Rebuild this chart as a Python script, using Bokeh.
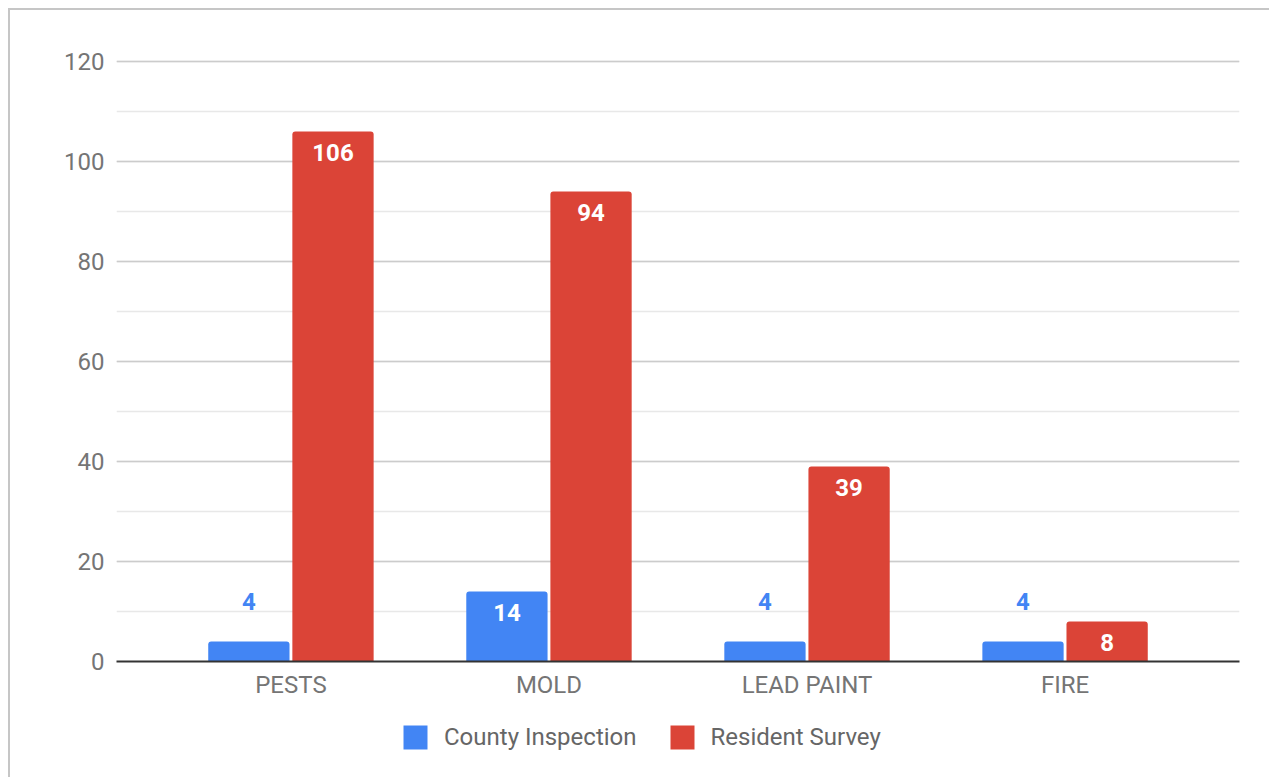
from bokeh.plotting import figure
from bokeh.layouts import column
from bokeh.models import ColumnDataSource, FactorRange, Range1d, Legend, LegendItem, SingleIntervalTicker
from bokeh.transform import dodge
from bokeh.core.properties import value
from bokeh.embed import file_html
from bokeh.resources import INLINE

categories = ["PESTS", "MOLD", "LEAD PAINT", "FIRE"]
county_inspection = [4, 14, 4, 4]
resident_survey = [106, 94, 39, 8]
series_names = ["County Inspection", "Resident Survey"]
y_min, y_max, y_step = 0, 120, 20

BLUE = "#4285F4"
RED = "#DB4437"
FONT = "Roboto"

p = figure(width=1259, height=691, output_backend="svg", toolbar_location=None,
           x_range=FactorRange(factors=categories, range_padding=0.176, range_padding_units="absolute"),
           y_range=Range1d(y_min, y_max + 0.4),
           min_border_left=106, min_border_right=30, min_border_top=49, min_border_bottom=40)
p.outline_line_color = None
p.background_fill_color = "white"
p.border_fill_color = "white"

src = ColumnDataSource(dict(cat=categories, ci=county_inspection, rs=resident_survey))
off = 0.163
w = 0.315
r1 = p.vbar(x=dodge("cat", -off, range=p.x_range), top="ci", width=w, source=src,
            fill_color=BLUE, line_color=None, border_radius=(3, 3, 0, 0))
r2 = p.vbar(x=dodge("cat", off, range=p.x_range), top="rs", width=w, source=src,
            fill_color=RED, line_color=None, border_radius=(3, 3, 0, 0))

# data labels
def split(vals):
    ins = dict(cat=[], v=[], t=[])
    outs = dict(cat=[], v=[], t=[])
    for c, v in zip(categories, vals):
        d = ins if v >= 6 else outs
        d["cat"].append(c); d["v"].append(v); d["t"].append(str(v))
    return ColumnDataSource(ins), ColumnDataSource(outs)

for vals, o in ((county_inspection, -off), (resident_survey, off)):
    s_in, s_out = split(vals)
    p.text(x=dodge("cat", o, range=p.x_range), y="v", text="t", source=s_in,
           text_color="white", text_font=value(FONT), text_font_style="bold",
           text_font_size="24px", text_align="center", text_baseline="middle", y_offset=21)
    p.text(x=dodge("cat", o, range=p.x_range), y="v", text="t", source=s_out,
           text_color=BLUE if o < 0 else RED, text_font=value(FONT), text_font_style="bold",
           text_font_size="24px", text_align="center", text_baseline="middle", y_offset=-40)

# axes
p.yaxis.ticker = SingleIntervalTicker(interval=y_step, num_minor_ticks=2)
p.yaxis.axis_line_color = None
p.yaxis.major_tick_line_color = None
p.yaxis.minor_tick_line_color = None
p.yaxis.major_label_text_font = FONT
p.yaxis.major_label_text_font_size = "24px"
p.yaxis.major_label_text_color = "#757575"
p.yaxis.major_label_standoff = 6

p.xaxis.axis_line_color = "#333333"
p.xaxis.axis_line_width = 2
p.xaxis.major_tick_line_color = None
p.xaxis.minor_tick_line_color = None
p.xaxis.major_label_text_font = FONT
p.xaxis.major_label_text_font_size = "24px"
p.xaxis.major_label_text_color = "#757575"
p.xaxis.major_label_standoff = 3

p.xgrid.grid_line_color = None
p.ygrid.grid_line_color = "#cccccc"
p.ygrid.grid_line_width = 1.5
p.ygrid.minor_grid_line_color = "#e8e8e8"
p.ygrid.minor_grid_line_width = 1.5

# legend strip below the chart (hidden copies of the series supply the swatches)
lg = figure(width=1259, height=76, output_backend="svg", toolbar_location=None,
            x_range=FactorRange(factors=categories), y_range=Range1d(0, 1),
            min_border_left=0, min_border_right=0, min_border_top=0, min_border_bottom=0)
lg.axis.visible = False
lg.grid.visible = False
lg.outline_line_color = None
lg1 = lg.vbar(x="cat", top="ci", width=w, source=src, fill_color=BLUE, line_color=None,
              border_radius=2, visible=False)
lg2 = lg.vbar(x="cat", top="rs", width=w, source=src, fill_color=RED, line_color=None,
              border_radius=2, visible=False)
legend = Legend(items=[LegendItem(label=series_names[0], renderers=[lg1]),
                       LegendItem(label=series_names[1], renderers=[lg2])],
                orientation="horizontal", location=(284, 25),
                glyph_width=30, glyph_height=30, label_standoff=14, spacing=30,
                label_text_font=FONT, label_text_font_size="24px", label_text_color="#666666",
                border_line_color=None, background_fill_alpha=0, margin=0, padding=0)
lg.add_layout(legend, "center")

page = column(p, lg, spacing=0,
              styles={"border-top": "2px solid #c6c6c6", "border-left": "2px solid #c6c6c6",
                      "margin-left": "8px", "margin-top": "8px"})

open("out.html", "w").write(file_html(page, INLINE))
